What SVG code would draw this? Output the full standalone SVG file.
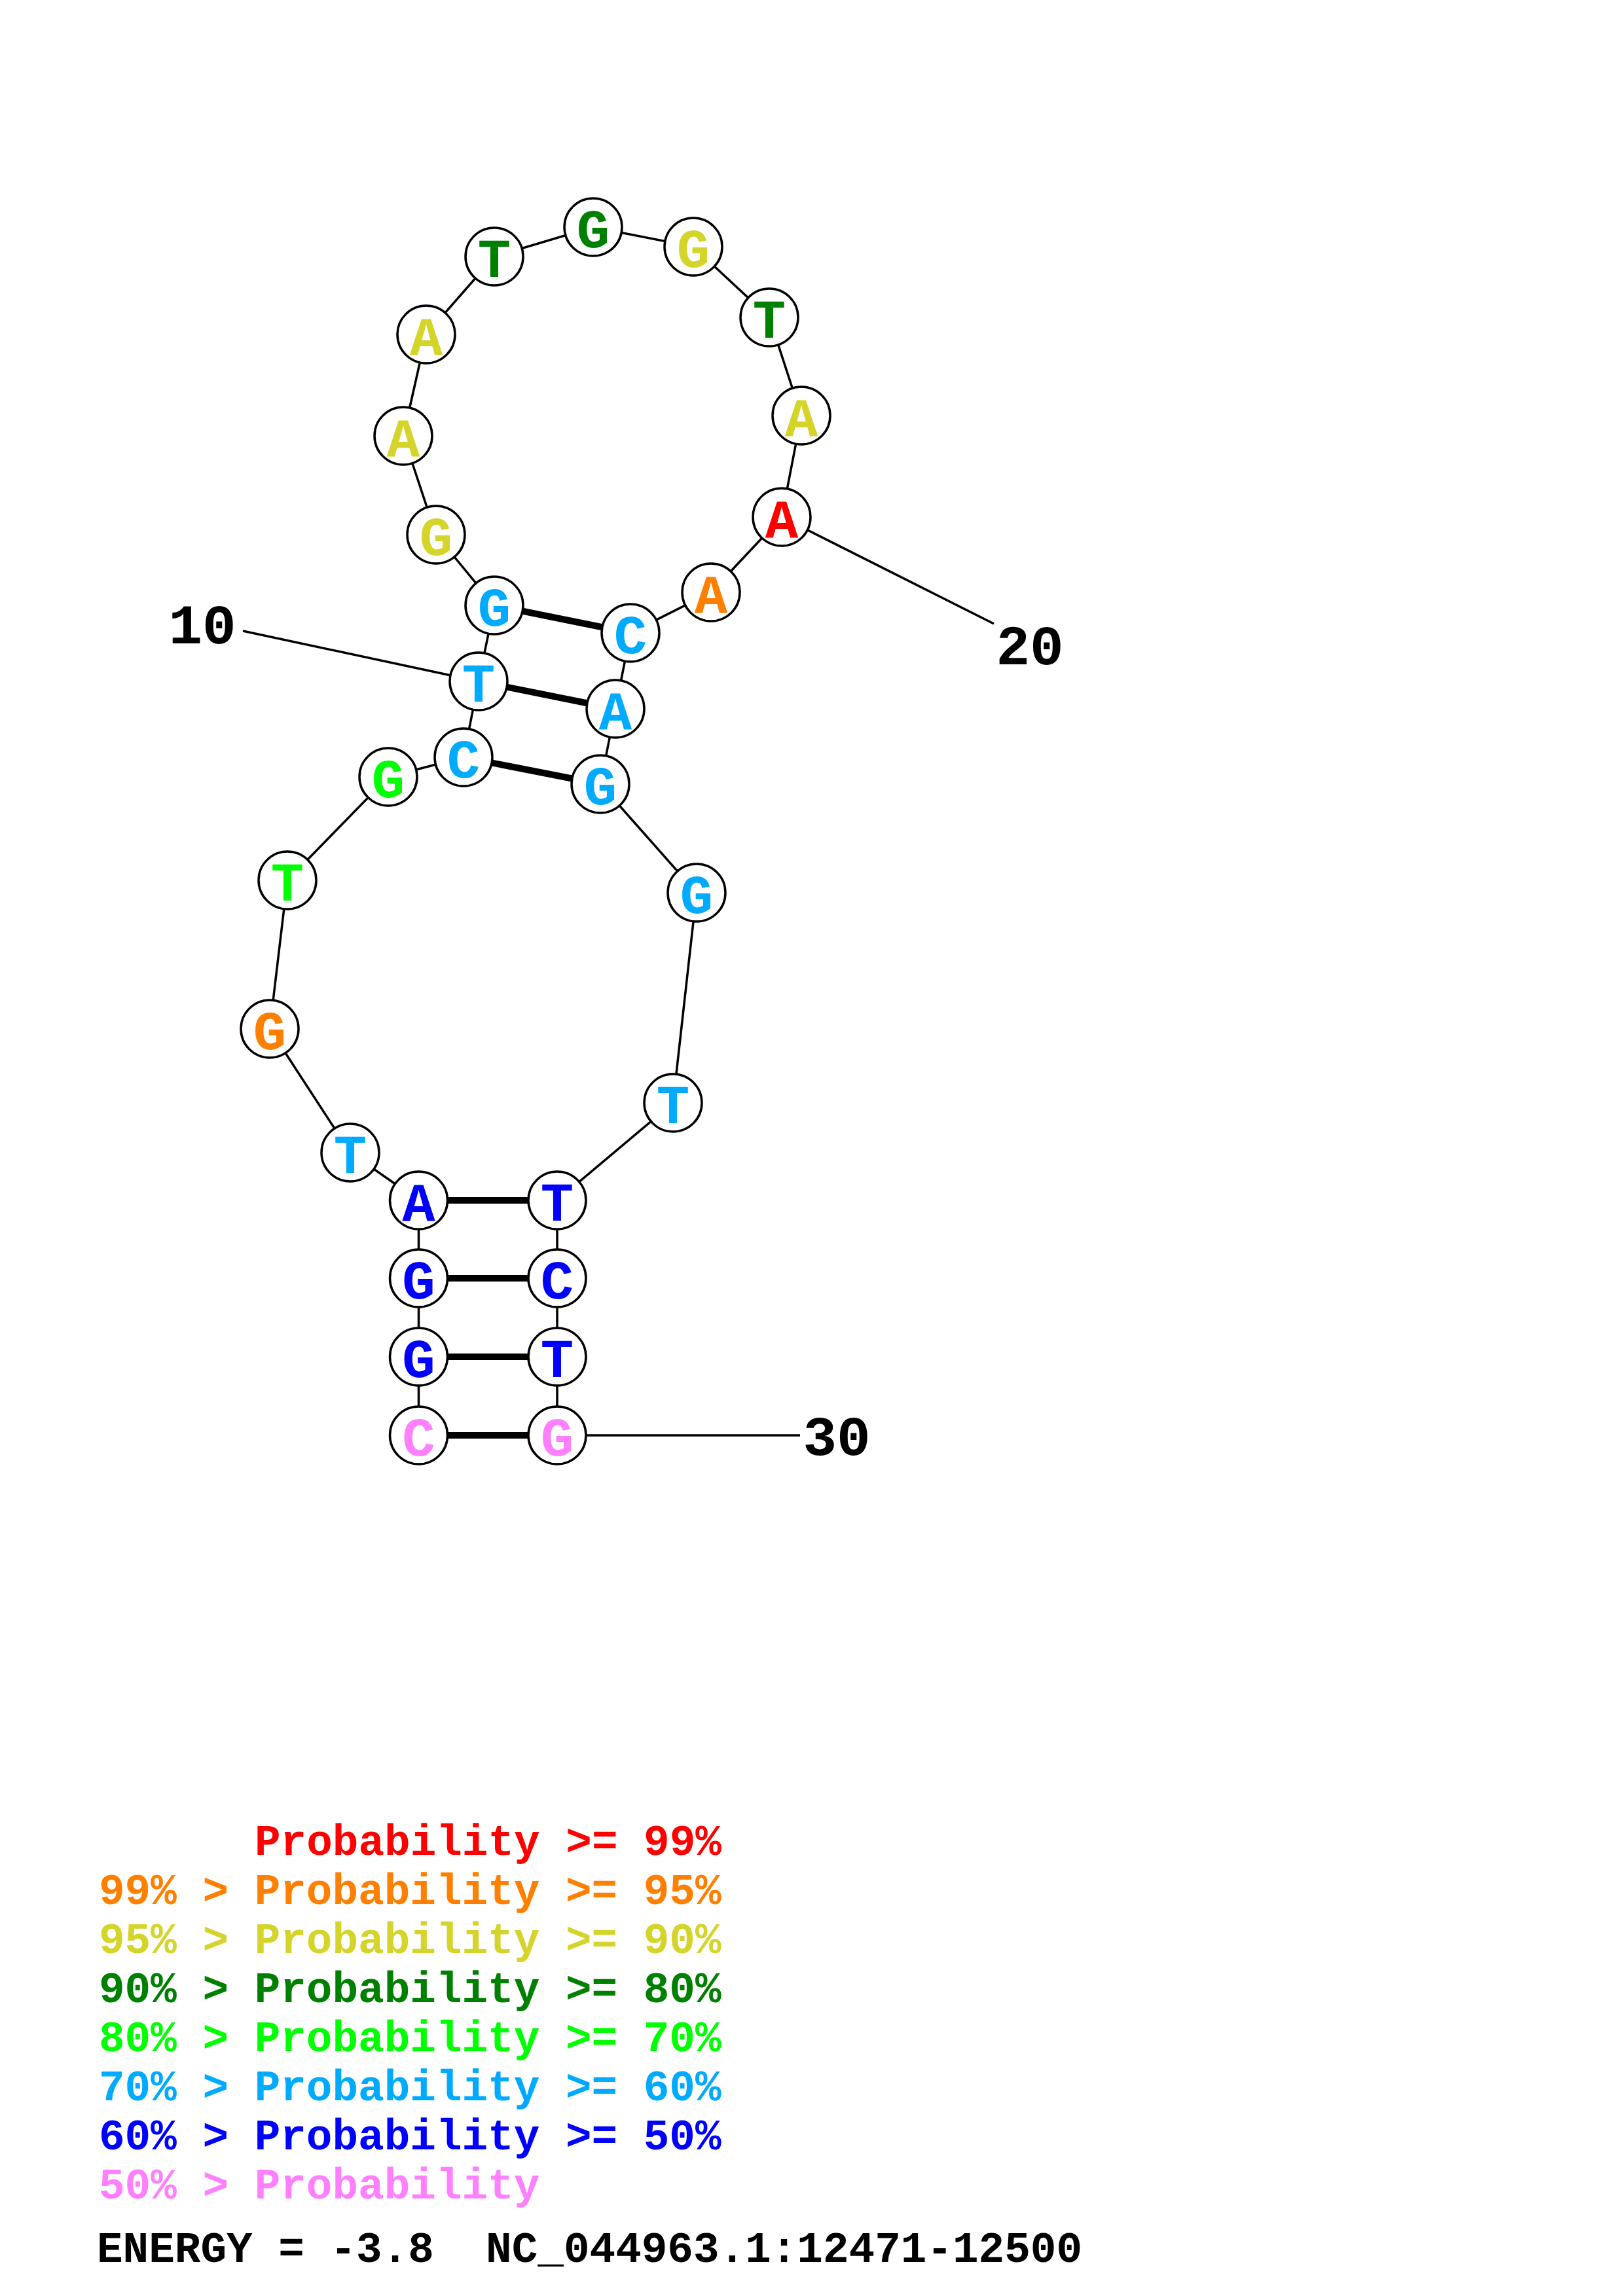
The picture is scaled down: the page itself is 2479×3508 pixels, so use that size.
<svg xmlns="http://www.w3.org/2000/svg" width="2479" height="3508" viewBox="0 0 2479 3508">
<style>
.bb{stroke:#000;stroke-width:3.5;fill:none}
.bp{stroke:#000;stroke-width:10;fill:none}
.nd circle{fill:#fff;stroke:#000;stroke-width:3.5}
.nd text{font-family:"Liberation Mono",monospace;font-weight:bold;font-size:84px;text-anchor:middle}
.num{font-family:"Liberation Mono",monospace;font-weight:bold;font-size:86px;text-anchor:middle;fill:#000}
.lg{font-family:"Liberation Mono",monospace;font-weight:bold;font-size:66px;white-space:pre}
.r{fill:#FF0000}.o{fill:#FF8000}.y{fill:#D4D42A}.dg{fill:#008000}.lgn{fill:#00FF00}.lb{fill:#00AAFF}.b{fill:#0000FF}.p{fill:#FF80FF}
</style>
<rect width="2479" height="3508" fill="#fff"/>
<g id="connectors">
<polyline class="bb" points="639.5,2193 639.5,2073 639.5,1953 639.5,1834 535,1761 412,1572 439,1345 593,1187 708,1157 731,1041 755,925 666,817 616,666 651,511 755,392 906,347 1059,377 1175,485 1224,635 1194,790 1086,905 963,967 940,1083 917,1198 1064,1364 1028,1685 851,1834 851,1953 851,2073 851,2193"/>
<line class="bp" x1="639.5" y1="2193" x2="851" y2="2193"/>
<line class="bp" x1="639.5" y1="2073" x2="851" y2="2073"/>
<line class="bp" x1="639.5" y1="1953" x2="851" y2="1953"/>
<line class="bp" x1="639.5" y1="1834" x2="851" y2="1834"/>
<line class="bp" x1="708" y1="1157" x2="917" y2="1198"/>
<line class="bp" x1="731" y1="1041" x2="940" y2="1083"/>
<line class="bp" x1="755" y1="925" x2="963" y2="967"/>
<line class="bb" x1="371" y1="964" x2="731" y2="1041"/>
<line class="bb" x1="1194" y1="790" x2="1518" y2="953"/>
<line class="bb" x1="851" y1="2193" x2="1222" y2="2193"/>
</g>
<g id="n1" class="nd"><circle cx="639.5" cy="2193" r="44"/><text x="639.5" y="2224" class="p">C</text></g>
<g id="n2" class="nd"><circle cx="639.5" cy="2073" r="44"/><text x="639.5" y="2104" class="b">G</text></g>
<g id="n3" class="nd"><circle cx="639.5" cy="1953" r="44"/><text x="639.5" y="1984" class="b">G</text></g>
<g id="n4" class="nd"><circle cx="639.5" cy="1834" r="44"/><text x="639.5" y="1865" class="b">A</text></g>
<g id="n5" class="nd"><circle cx="535" cy="1761" r="44"/><text x="535" y="1792" class="lb">T</text></g>
<g id="n6" class="nd"><circle cx="412" cy="1572" r="44"/><text x="412" y="1603" class="o">G</text></g>
<g id="n7" class="nd"><circle cx="439" cy="1345" r="44"/><text x="439" y="1376" class="lgn">T</text></g>
<g id="n8" class="nd"><circle cx="593" cy="1187" r="44"/><text x="593" y="1218" class="lgn">G</text></g>
<g id="n9" class="nd"><circle cx="708" cy="1157" r="44"/><text x="708" y="1188" class="lb">C</text></g>
<g id="n10" class="nd"><circle cx="731" cy="1041" r="44"/><text x="731" y="1072" class="lb">T</text></g>
<g id="n11" class="nd"><circle cx="755" cy="925" r="44"/><text x="755" y="956" class="lb">G</text></g>
<g id="n12" class="nd"><circle cx="666" cy="817" r="44"/><text x="666" y="848" class="y">G</text></g>
<g id="n13" class="nd"><circle cx="616" cy="666" r="44"/><text x="616" y="697" class="y">A</text></g>
<g id="n14" class="nd"><circle cx="651" cy="511" r="44"/><text x="651" y="542" class="y">A</text></g>
<g id="n15" class="nd"><circle cx="755" cy="392" r="44"/><text x="755" y="423" class="dg">T</text></g>
<g id="n16" class="nd"><circle cx="906" cy="347" r="44"/><text x="906" y="378" class="dg">G</text></g>
<g id="n17" class="nd"><circle cx="1059" cy="377" r="44"/><text x="1059" y="408" class="y">G</text></g>
<g id="n18" class="nd"><circle cx="1175" cy="485" r="44"/><text x="1175" y="516" class="dg">T</text></g>
<g id="n19" class="nd"><circle cx="1224" cy="635" r="44"/><text x="1224" y="666" class="y">A</text></g>
<g id="n20" class="nd"><circle cx="1194" cy="790" r="44"/><text x="1194" y="821" class="r">A</text></g>
<g id="n21" class="nd"><circle cx="1086" cy="905" r="44"/><text x="1086" y="936" class="o">A</text></g>
<g id="n22" class="nd"><circle cx="963" cy="967" r="44"/><text x="963" y="998" class="lb">C</text></g>
<g id="n23" class="nd"><circle cx="940" cy="1083" r="44"/><text x="940" y="1114" class="lb">A</text></g>
<g id="n24" class="nd"><circle cx="917" cy="1198" r="44"/><text x="917" y="1229" class="lb">G</text></g>
<g id="n25" class="nd"><circle cx="1064" cy="1364" r="44"/><text x="1064" y="1395" class="lb">G</text></g>
<g id="n26" class="nd"><circle cx="1028" cy="1685" r="44"/><text x="1028" y="1716" class="lb">T</text></g>
<g id="n27" class="nd"><circle cx="851" cy="1834" r="44"/><text x="851" y="1865" class="b">T</text></g>
<g id="n28" class="nd"><circle cx="851" cy="1953" r="44"/><text x="851" y="1984" class="b">C</text></g>
<g id="n29" class="nd"><circle cx="851" cy="2073" r="44"/><text x="851" y="2104" class="b">T</text></g>
<g id="n30" class="nd"><circle cx="851" cy="2193" r="44"/><text x="851" y="2224" class="p">G</text></g>
<g id="labels">
<text class="num" x="309" y="983">10</text>
<text class="num" x="1573" y="1015">20</text>
<text class="num" x="1278" y="2223">30</text>
</g>
<g id="legend">
<text class="lg r" x="389" y="2834">Probability &gt;= 99%</text>
<text class="lg o" x="151" y="2909">99% &gt; Probability &gt;= 95%</text>
<text class="lg y" x="151" y="2984">95% &gt; Probability &gt;= 90%</text>
<text class="lg dg" x="151" y="3059">90% &gt; Probability &gt;= 80%</text>
<text class="lg lgn" x="151" y="3134">80% &gt; Probability &gt;= 70%</text>
<text class="lg lb" x="151" y="3209">70% &gt; Probability &gt;= 60%</text>
<text class="lg b" x="151" y="3284">60% &gt; Probability &gt;= 50%</text>
<text class="lg p" x="151" y="3359">50% &gt; Probability</text>
<text class="lg" x="148" y="3456" fill="#000">ENERGY = -3.8  NC_044963.1:12471-12500</text>
</g>
</svg>
